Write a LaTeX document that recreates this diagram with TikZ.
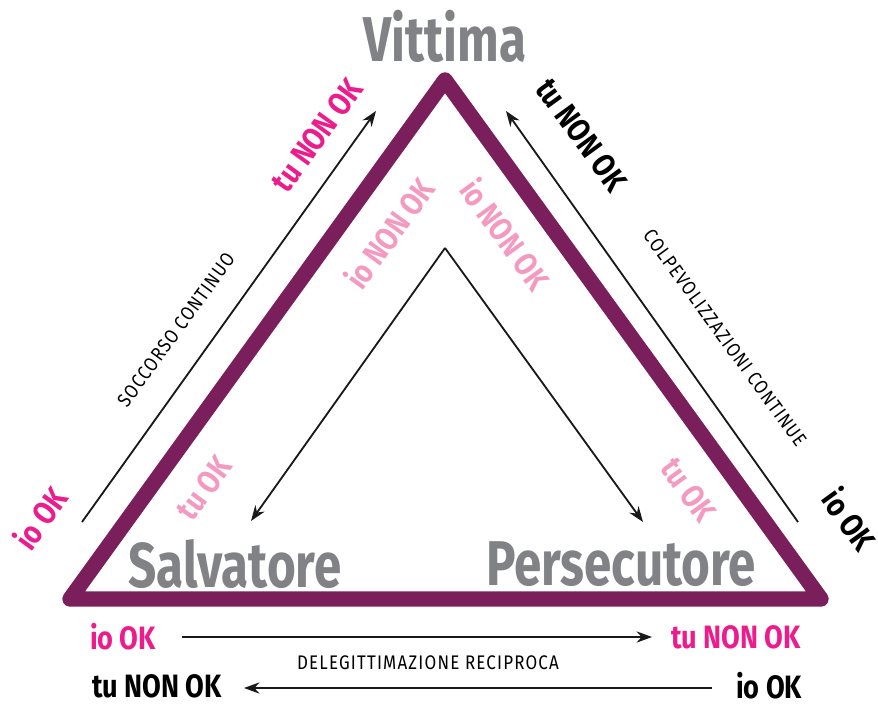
\documentclass[tikz,border=0pt]{standalone}
\usepackage{fontspec}
\setmainfont{Fira Sans}[FakeStretch=0.78]
\newfontfamily\statefont{Fira Sans}[FakeStretch=0.84]
\newfontfamily\capfont{Fira Sans}[FakeStretch=0.86,LetterSpace=6]
\usepackage{tikz}
\usetikzlibrary{arrows.meta,positioning}

\begin{document}
\begin{tikzpicture}[x=0.025cm,y=-0.025cm]
\definecolor{triangle line}{HTML}{7A1E5C}
\definecolor{role grey}{HTML}{808285}
\definecolor{strong pink}{HTML}{EC1C8D}
\definecolor{soft pink}{HTML}{F49AC1}
\tikzset{
     triangle/.style={draw=triangle line, line width=11pt, line join=round},
     arrow/.style={draw=black!90, line width=1.3pt, -{Stealth[length=11pt,width=8pt]}},
     role/.style={text=role grey, font=\bfseries\fontsize{45}{45}\selectfont, inner sep=0pt},
     state/.style={font=\statefont\bfseries\fontsize{23}{23}\selectfont, inner sep=0pt},
     inner state/.style={state, text=soft pink},
     caption/.style={font=\capfont\fontsize{14}{14}\selectfont, inner sep=0pt}}

\useasboundingbox (0,0) rectangle (878,704);

% The triangle
\coordinate (apex) at (445,80);
\coordinate (leftcorner) at (70,599);
\coordinate (rightcorner) at (821,599);
\draw [triangle] (apex) -- (rightcorner) -- (leftcorner) -- cycle;

% The roles
\node (vittima) [role] at (445,36) {Vittima};
\node (salvatore) [role] at (235,564) {Salvatore};
\node (persecutore) [role] at (621,564) {Persecutore};

% The arrows inside
\coordinate (innertop) at (445,248);
\coordinate (innerleft) at (251,521);
\coordinate (innerright) at (643,522);
\draw [arrow] (innertop) -- (innerleft);
\draw [arrow] (innertop) -- (innerright);

% The arrows outside
\coordinate (leftstart) at (82,522);
\coordinate (leftend) at (376,111);
\coordinate (rightstart) at (798,522);
\coordinate (rightend) at (506,111);
\draw [arrow] (leftstart) -- (leftend);
\draw [arrow] (rightstart) -- (rightend);

% The labels on the left side
\node (leftio) [state, text=strong pink, rotate=54] at (40,518) {io OK};
\node (lefttu) [state, text=strong pink, rotate=54] at (317,135) {tu NON OK};
\node (soccorso) [caption, rotate=54] at (176,330) {SOCCORSO CONTINUO};
\node (leftinnerio) [inner state, rotate=54] at (389,233) {io NON OK};
\node (leftinnertu) [inner state, rotate=54] at (204,488) {tu OK};

% The labels on the right side
\node (righttu) [state, rotate=-54] at (582,135) {tu NON OK};
\node (colpe) [caption, rotate=-54] at (725,338) {COLPEVOLIZZAZIONI CONTINUE};
\node (rightio) [state, rotate=-54] at (850,519) {io OK};
\node (rightinnerio) [inner state, rotate=-54] at (506,234) {io NON OK};
\node (rightinnertu) [inner state, rotate=-54] at (689,490) {tu OK};

% The labels and arrows below
\node (bottomio) [state, text=strong pink] at (123,637) {io OK};
\node (bottomtu) [state, text=strong pink] at (736,637) {tu NON OK};
\node (deleg) [caption] at (428,663) {DELEGITTIMAZIONE RECIPROCA};
\node (lasttu) [state] at (157,686) {tu NON OK};
\node (lastio) [state] at (769,686) {io OK};
\coordinate (upperstart) at (182,637);
\coordinate (upperend) at (652,637);
\coordinate (lowerstart) at (712,688);
\coordinate (lowerend) at (244,688);
\draw [arrow] (upperstart) -- (upperend);
\draw [arrow] (lowerstart) -- (lowerend);
\end{tikzpicture}
\end{document}
